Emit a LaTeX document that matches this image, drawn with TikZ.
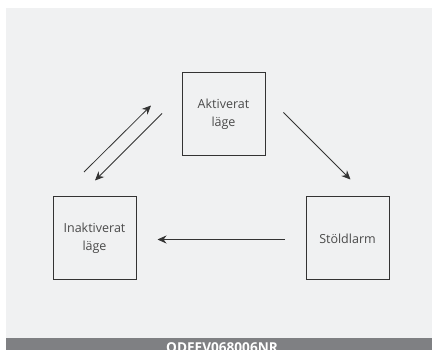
\documentclass[tikz,border=0pt]{standalone}
\usepackage{fontspec}
\setmainfont{Open Sans}
\usetikzlibrary{arrows.meta}
\definecolor{bgc}{HTML}{F0F1F2}
\definecolor{barc}{HTML}{7F8083}
\definecolor{linec}{HTML}{333333}
\definecolor{txtc}{HTML}{4A4A4A}
\tikzset{
  statebox/.style={draw=linec, line width=1pt, minimum width=83pt, minimum height=83pt, inner sep=0pt, align=center, text=txtc, font=\fontsize{12.5}{18}\selectfont},
  conn/.style={draw=linec, line width=0.8pt, -{Stealth[length=9pt,width=8pt]}}
}
\begin{document}
\begin{tikzpicture}[x=1pt,y=-1pt]
\useasboundingbox (0,0) rectangle (432,350);
\fill[white] (0,0) rectangle (432,350);
\fill[bgc] (6,8) rectangle (432,338);
\begin{scope}
\clip (6,338) rectangle (432,350);
\fill[barc] (6,338) rectangle (432,350);
\node[text=white, font=\fontsize{13.6}{13.6}\selectfont\bfseries, anchor=north] (code) at (222,339.2) {ODEEV068006NR};
\end{scope}
\node[statebox] (akt) at (223.5,114.5) {Aktiverat\\läge};
\node[statebox] (inakt) at (94.5,238.5) {Inaktiverat\\läge};
\node[statebox] (stold) at (347.5,238.5) {Stöldlarm};
\coordinate (u1) at (84,172);
\coordinate (u2) at (151,105.5);
\coordinate (d1) at (162,113.5);
\coordinate (d2) at (95,180.5);
\coordinate (r1) at (283.5,112.5);
\coordinate (r2) at (350.5,179.5);
\coordinate (h1) at (285,239.5);
\coordinate (h2) at (157.5,239.5);
\draw[conn] (u1) -- (u2);
\draw[conn] (d1) -- (d2);
\draw[conn] (r1) -- (r2);
\draw[conn] (h1) -- (h2);
\end{tikzpicture}
\end{document}
